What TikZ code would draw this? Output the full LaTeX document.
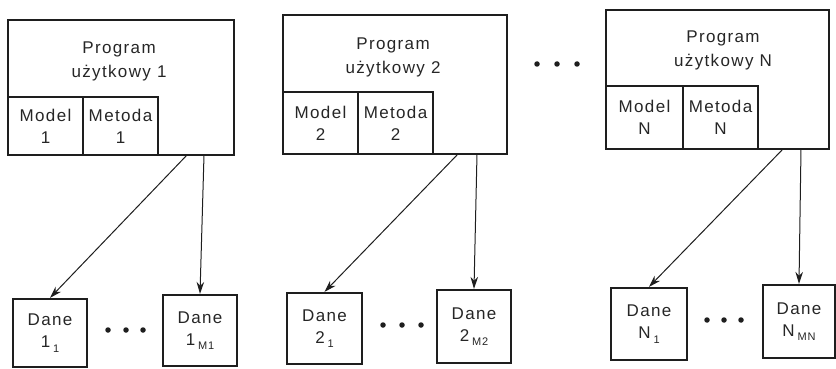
\documentclass[tikz,border=0pt]{standalone}
\usepackage{fontspec}
\setmainfont{Liberation Sans}[LetterSpace=8]
\usetikzlibrary{arrows.meta}
\definecolor{ink}{HTML}{1E1E1E}
\definecolor{txtc}{HTML}{262626}
\newcommand{\lowsub}[1]{\,\raisebox{-4.5pt}{\fontsize{11}{11}\selectfont #1}}
\begin{document}
\begin{tikzpicture}[x=1pt,y=-1pt,
  box/.style={draw=ink, line width=2.2pt, inner sep=0pt, text=txtc, align=center,
              font=\fontsize{17}{22}\selectfont},
  txt/.style={text=txtc, font=\fontsize{17}{24}\selectfont, align=center, inner sep=0pt},
  arr/.style={draw=ink, line width=1pt, -{Stealth[length=12pt,width=7.5pt]}},
  dot/.style={circle, fill=ink, minimum size=5.5pt, inner sep=0pt}]
\useasboundingbox (0,0) rectangle (836,369);

% program boxes
\node[box, minimum width=226pt, minimum height=135pt] (p1) at (121,87.5) {};
\node[txt] (p1t) at (119,61) {Program\\użytkowy 1};
\node[box, minimum width=75pt, minimum height=58pt] (m1) at (45.5,126) {Model\\1};
\node[box, minimum width=75pt, minimum height=58pt] (e1) at (120.5,126) {Metoda\\1};

\node[box, minimum width=224pt, minimum height=139pt] (p2) at (395,84.5) {};
\node[txt] (p2t) at (393,57) {Program\\użytkowy 2};
\node[box, minimum width=75pt, minimum height=62pt] (m2) at (320.5,123) {Model\\2};
\node[box, minimum width=75pt, minimum height=62pt] (e2) at (395.5,123) {Metoda\\2};

\node[box, minimum width=223pt, minimum height=139pt] (p3) at (717.5,79.5) {};
\node[txt] (p3t) at (723,50) {Program\\użytkowy N};
\node[box, minimum width=77pt, minimum height=63pt] (m3) at (644.5,117.5) {Model\\N};
\node[box, minimum width=75pt, minimum height=63pt] (e3) at (720.5,117.5) {Metoda\\N};

% dots between program boxes
\node[dot] (td1) at (537,64) {};
\node[dot] (td2) at (557,64) {};
\node[dot] (td3) at (577,64) {};

% data boxes
\node[box, minimum width=74pt, minimum height=68pt] (d11) at (50,333) {Dane\\1\lowsub{1}};
\node[box, minimum width=74pt, minimum height=71pt] (d1m) at (200,330.5) {Dane\\1\lowsub{M1}};
\node[box, minimum width=75pt, minimum height=71pt] (d21) at (324.5,328.5) {Dane\\2\lowsub{1}};
\node[box, minimum width=74pt, minimum height=73pt] (d2m) at (474,326.5) {Dane\\2\lowsub{M2}};
\node[box, minimum width=76pt, minimum height=72pt] (dn1) at (649,324) {Dane\\N\lowsub{1}};
\node[box, minimum width=72pt, minimum height=73pt] (dnm) at (799,321.5) {Dane\\N\lowsub{MN}};

% dots between data boxes
\node[dot] (bd11) at (108,330) {};
\node[dot] (bd12) at (126,330) {};
\node[dot] (bd13) at (143,330) {};
\node[dot] (bd21) at (383,325) {};
\node[dot] (bd22) at (402,325) {};
\node[dot] (bd23) at (421,325) {};
\node[dot] (bd31) at (707,320) {};
\node[dot] (bd32) at (724,320) {};
\node[dot] (bd33) at (741,320) {};

% arrows
\coordinate (s1a) at (187,155);
\coordinate (s1b) at (204,155);
\coordinate (s2a) at (458,154);
\coordinate (s2b) at (477,154);
\coordinate (s3a) at (783,149);
\coordinate (s3b) at (801,149);
\draw[arr] (s1a) -- (d11.north);
\draw[arr] (s1b) -- (d1m.north);
\draw[arr] (s2a) -- (d21.north);
\draw[arr] (s2b) -- (d2m.north);
\draw[arr] (s3a) -- (dn1.north);
\draw[arr] (s3b) -- (dnm.north);
\end{tikzpicture}
\end{document}
